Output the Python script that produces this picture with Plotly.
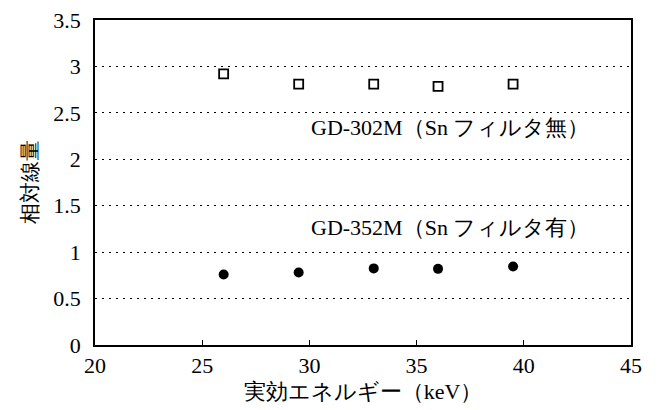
import plotly.graph_objects as go

energy = [26, 29.5, 33, 36, 39.5]
gd302m = [2.92, 2.81, 2.81, 2.785, 2.81]
gd352m = [0.76, 0.78, 0.825, 0.82, 0.845]
label_302 = "GD-302M（Sn フィルタ無）"
label_352 = "GD-352M（Sn フィルタ有）"
x_title = "実効エネルギー（keV）"
y_title = "相対線量"
x_ticks = [20, 25, 30, 35, 40, 45]
y_ticks = [0, 0.5, 1, 1.5, 2, 2.5, 3, 3.5]

SERIF = "Liberation Serif"

fig = go.Figure()
fig.add_trace(go.Scatter(
    x=energy, y=gd302m, mode="markers", name="GD-302M",
    marker=dict(symbol="square-open", size=9, color="black", line=dict(width=1.8, color="black")),
))
fig.add_trace(go.Scatter(
    x=energy, y=gd352m, mode="markers", name="GD-352M",
    marker=dict(symbol="circle", size=10, color="black"),
))

fig.add_annotation(x=30.0, y=2.34, text=label_302, showarrow=False,
                   xanchor="left", yanchor="middle", font=dict(family=SERIF, size=22, color="black"))
fig.add_annotation(x=30.0, y=1.27, text=label_352, showarrow=False,
                   xanchor="left", yanchor="middle", font=dict(family=SERIF, size=22, color="black"))

fig.update_layout(
    width=659, height=410,
    margin=dict(l=95, r=28, t=20, b=65),
    paper_bgcolor="white", plot_bgcolor="white",
    showlegend=False,
)
fig.update_xaxes(
    range=[20, 45], tickvals=x_ticks, ticktext=[str(v) for v in x_ticks],
    showgrid=False, zeroline=False, automargin=False,
    showline=True, linecolor="black", linewidth=1.8, mirror=True,
    ticks="inside", ticklen=5, tickcolor="black", tickwidth=1.2,
    tickfont=dict(family=SERIF, size=22, color="black"),
    title=dict(text=x_title, font=dict(family=SERIF, size=22, color="black"), standoff=6),
)
fig.update_yaxes(
    range=[0, 3.5], tickvals=y_ticks, ticktext=["0", "0.5", "1", "1.5", "2", "2.5", "3", "3.5"],
    showgrid=True, gridcolor="black", gridwidth=1.3, griddash="2px,5px",
    zeroline=False, automargin=False,
    showline=True, linecolor="black", linewidth=1.8, mirror=True,
    ticks="", ticklabelstandoff=8,
    tickfont=dict(family=SERIF, size=22, color="black"),
    title=dict(text=y_title, font=dict(family=SERIF, size=21, color="black"), standoff=10),
)

fig.write_html("out.html")
